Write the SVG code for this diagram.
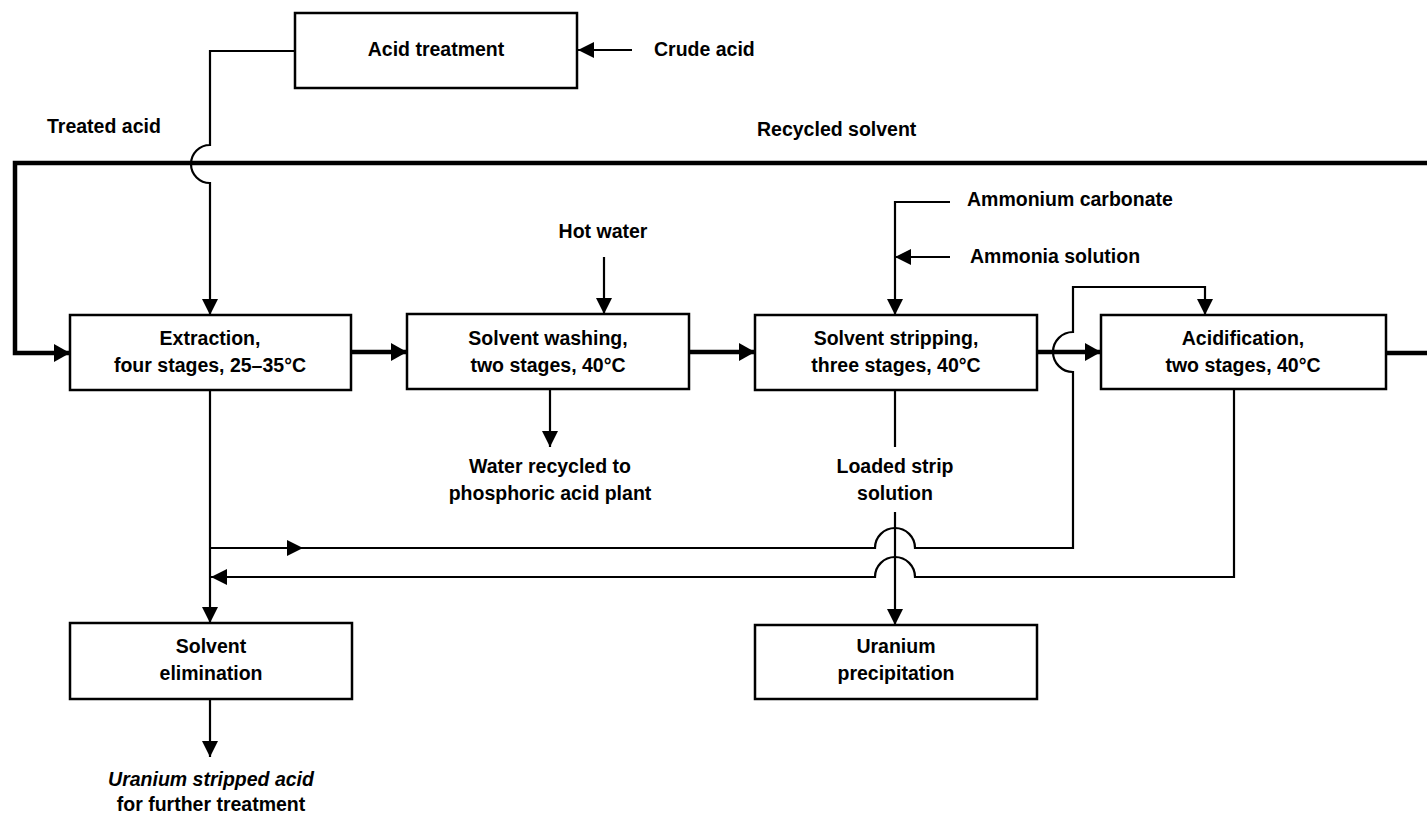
<svg xmlns="http://www.w3.org/2000/svg" width="1427" height="815" viewBox="0 0 1427 815">
<defs>
<style>
.box{fill:#fff;stroke:#000;stroke-width:2.5}
.t{font-family:"Liberation Sans",Arial,Helvetica,sans-serif;font-size:19.5px;font-weight:bold;fill:#000}
.c{text-anchor:middle}
.thin{fill:none;stroke:#000;stroke-width:2.2}
.thick{fill:none;stroke:#000;stroke-width:4.5}
.ah{fill:#000}
</style>
<marker id="arr" viewBox="0 0 16 16" refX="16" refY="8" markerWidth="16" markerHeight="16" markerUnits="userSpaceOnUse" orient="auto">
<path d="M0,0 L16,8 L0,16 z" fill="#000"/>
</marker>
<marker id="arrb" viewBox="0 0 16 18" refX="16" refY="9" markerWidth="16" markerHeight="18" markerUnits="userSpaceOnUse" orient="auto">
<path d="M0,0 L16,9 L0,18 z" fill="#000"/>
</marker>
</defs>
<rect width="1427" height="815" fill="#fff"/>

<g id="connectors">
<path class="thick" d="M1427,163 H15 V353 H70" marker-end="url(#arrb)"/>
<path class="thin" d="M632,50 H578" marker-end="url(#arr)"/>
<path class="thin" d="M295,51 H210 V145 A19,19 0 0 0 210,183 V315" marker-end="url(#arr)"/>
<path class="thick" d="M351,352 H407" marker-end="url(#arrb)"/>
<path class="thin" d="M604,257 V314" marker-end="url(#arr)"/>
<path class="thin" d="M550,389 V447" marker-end="url(#arr)"/>
<path class="thick" d="M689,352 H755" marker-end="url(#arrb)"/>
<path class="thin" d="M950,202 H895 V315" marker-end="url(#arr)"/>
<path class="thin" d="M950,257 H895" marker-end="url(#arr)"/>
<path class="thick" d="M1037,352 H1101" marker-end="url(#arrb)"/>
<path class="thin" d="M210,390 V623" marker-end="url(#arr)"/>
<path class="thin" d="M210,548 H875 A20,20 0 0 1 915,548 H1073 V372 A20,20 0 0 1 1073,332 V287 H1205 V315" marker-end="url(#arr)"/>
<polygon class="ah" points="287,540 303,548 287,556"/>
<path class="thin" d="M1234,389 V577 H915 A20,20 0 0 0 875,577 H211" marker-end="url(#arr)"/>
<path class="thin" d="M895,390 V447"/>
<path class="thin" d="M895,512 V625" marker-end="url(#arr)"/>
<path class="thick" d="M1386,353 H1427"/>
<path class="thin" d="M210,699 V757" marker-end="url(#arr)"/>
</g>

<g id="acid-treatment">
<rect class="box" x="295" y="13" width="282" height="75"/>
<text class="t c" x="436" y="56">Acid treatment</text>
</g>
<g id="crude-acid"><text class="t" x="654" y="56">Crude acid</text></g>
<g id="treated-acid"><text class="t" x="47" y="133">Treated acid</text></g>
<g id="recycled-solvent"><text class="t" x="757" y="136">Recycled solvent</text></g>

<g id="extraction">
<rect class="box" x="70" y="315" width="281" height="75"/>
<text class="t c" x="210" y="345">Extraction,</text>
<text class="t c" x="210" y="372">four stages, 25–35°C</text>
</g>

<g id="hot-water"><text class="t c" x="603" y="238">Hot water</text></g>

<g id="solvent-washing">
<rect class="box" x="407" y="314" width="282" height="75"/>
<text class="t c" x="548" y="345">Solvent washing,</text>
<text class="t c" x="548" y="372">two stages, 40°C</text>
</g>

<g id="water-recycled">
<text class="t c" x="550" y="473">Water recycled to</text>
<text class="t c" x="550" y="500">phosphoric acid plant</text>
</g>

<g id="ammonium-carbonate"><text class="t" x="967" y="206">Ammonium carbonate</text></g>
<g id="ammonia-solution"><text class="t" x="970" y="263">Ammonia solution</text></g>

<g id="solvent-stripping">
<rect class="box" x="755" y="315" width="282" height="75"/>
<text class="t c" x="896" y="345">Solvent stripping,</text>
<text class="t c" x="896" y="372">three stages, 40°C</text>
</g>

<g id="acidification">
<rect class="box" x="1101" y="315" width="285" height="74"/>
<text class="t c" x="1243" y="345">Acidification,</text>
<text class="t c" x="1243" y="372">two stages, 40°C</text>
</g>

<g id="loaded-strip">
<text class="t c" x="895" y="473">Loaded strip</text>
<text class="t c" x="895" y="500">solution</text>
</g>

<g id="solvent-elimination">
<rect class="box" x="70" y="623" width="282" height="76"/>
<text class="t c" x="211" y="653">Solvent</text>
<text class="t c" x="211" y="680">elimination</text>
</g>

<g id="uranium-precipitation">
<rect class="box" x="755" y="625" width="282" height="74"/>
<text class="t c" x="896" y="653">Uranium</text>
<text class="t c" x="896" y="680">precipitation</text>
</g>

<g id="stripped-acid">
<text class="t c" x="211" y="786" font-style="italic">Uranium stripped acid</text>
<text class="t c" x="211" y="811">for further treatment</text>
</g>
</svg>
